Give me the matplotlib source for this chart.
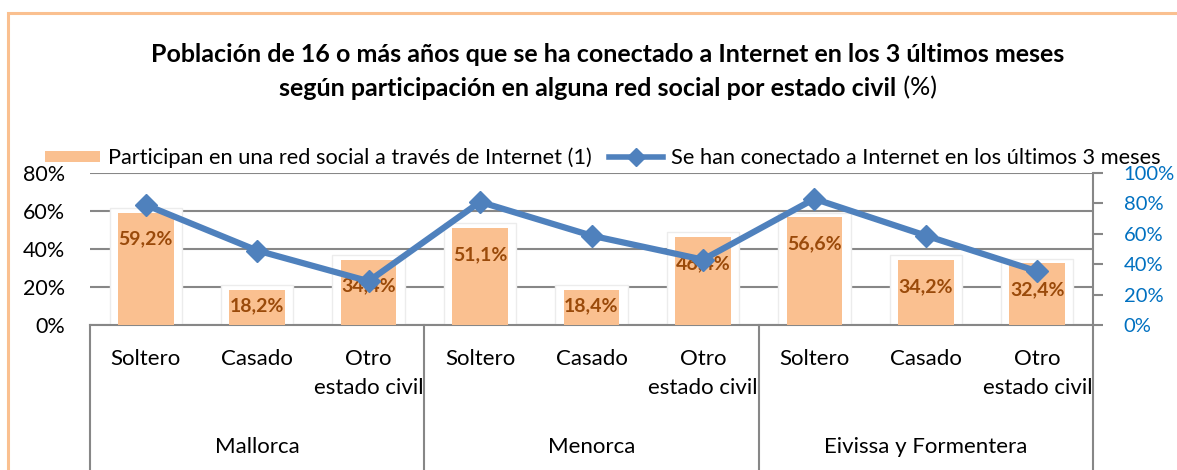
import matplotlib
matplotlib.use('Agg')
import matplotlib.pyplot as plt
from matplotlib.patches import Patch, Rectangle
from matplotlib.lines import Line2D
from matplotlib.transforms import blended_transform_factory
import numpy as np

plt.rcParams['font.family'] = ['Lato', 'DejaVu Sans']

# data
islands = ['Mallorca', 'Menorca', 'Eivissa y Formentera']
estados = ['Soltero', 'Casado', 'Otro\nestado civil']
red_social = [59.2, 18.2, 34.4, 51.1, 18.4, 46.4, 56.6, 34.2, 32.4]
conectados = [79.0, 49.0, 28.8, 81.0, 58.8, 43.0, 83.0, 58.8, 35.3]
left_ticks = [0, 20, 40, 60, 80]
right_ticks = [0, 20, 40, 60, 80, 100]

ORANGE = '#FAC090'
LABEL = '#9A4A0A'
BLUE = '#4F81BD'
TICKBLUE = '#0070C0'
GRID = '#878787'

W, H = 1177, 470
fig = plt.figure(figsize=(W / 100, H / 100), dpi=100)

# orange chart border (cut off on right and bottom)
fig.patches.append(Rectangle((8 / W, -0.1), 1.2, (H - 13) / H + 0.1, transform=fig.transFigure,
                             fill=False, edgecolor=ORANGE, lw=2.2, zorder=0))

x0, x1 = 90, 1093
y_top, y_bot = 173, 325
ax = fig.add_axes([x0 / W, (H - y_bot) / H, (x1 - x0) / W, (y_bot - y_top) / H])
ax2 = ax.twinx()

n = len(red_social)
x = np.arange(n)

# white glow behind bars
ax.bar(x, [v + 2.6 for v in red_social], width=0.65, color='white', edgecolor='#ececec',
       lw=1.0, zorder=2)
ax.bar(x, red_social, width=0.5, color=ORANGE, zorder=3)
for xi, v in zip(x, red_social):
    ax.text(xi, max(v - 14, 10), f'{v:.1f}%'.replace('.', ','), ha='center', va='center',
            fontsize=14, fontweight='bold', color=LABEL, zorder=4)

ax.set_xlim(-0.5, n - 0.5)
ax.set_ylim(0, 80)
ax.set_yticks(left_ticks)
ax.set_yticklabels([f'{t}%' for t in left_ticks], fontsize=15.5, color='black')
ax.yaxis.grid(True, color=GRID, lw=1.5, zorder=1)
ax.set_axisbelow(True)
ax.tick_params(axis='y', length=0, pad=18)
ax.set_xticks([])
for s in ['top', 'left', 'right']:
    ax.spines[s].set_visible(False)
ax.spines['bottom'].set_color(GRID)
ax.spines['bottom'].set_linewidth(1.5)

# line on the secondary axis, drawn above the bars
ax2.set_zorder(ax.get_zorder() + 1)
ax2.patch.set_visible(False)
ax2.plot(x, conectados, color=BLUE, lw=4.5, marker='D', markersize=11)
ax2.set_ylim(0, 100)
ax2.set_yticks(right_ticks)
ax2.set_yticklabels([f'{t}%' for t in right_ticks], fontsize=14.5, color=TICKBLUE)
ax2.tick_params(axis='y', which='both', direction='out', length=7, width=1.5, color=GRID,
                pad=15)
for s in ['top', 'left', 'bottom']:
    ax2.spines[s].set_visible(False)
ax2.spines['right'].set_color(GRID)
ax2.spines['right'].set_linewidth(1.5)

# multi-level category axis
tr = blended_transform_factory(ax.transData, ax.transAxes)
axis_h = y_bot - y_top
for i, lab in enumerate(estados * len(islands)):
    ax.text(i, (y_bot - 349) / axis_h, lab, transform=tr, ha='center', va='top',
            fontsize=16, linespacing=1.55)
for g, isl in enumerate(islands):
    ax.text(g * 3 + 1, (y_bot - 447) / axis_h, isl, transform=tr, ha='center', va='center',
            fontsize=16)
for b in np.arange(len(islands) + 1) * 3 - 0.5:
    ax.plot([b, b], [0, (y_bot - H - 5) / axis_h], transform=tr, color=GRID, lw=1.5,
            clip_on=False)

# legend
handles = [Patch(facecolor=ORANGE, edgecolor='none'),
           Line2D([], [], color=BLUE, lw=4, marker='D', markersize=9)]
labels = ['Participan en una red social a través de Internet (1)',
          'Se han conectado a Internet en los últimos 3 meses']
fig.legend(handles, labels, loc='center', bbox_to_anchor=(603 / W, (H - 158) / H), ncol=2,
           frameon=False, fontsize=15.7, handlelength=2.5, handleheight=0.45,
           handletextpad=0.35, columnspacing=0.8)

# title
fig.text(608 / W, (H - 55) / H,
         'Población de 16 o más años que se ha conectado a Internet en los 3 últimos meses',
         ha='center', va='center', fontsize=18, fontweight='bold')
t_bold = fig.text(0, (H - 88) / H, 'según participación en alguna red social por estado civil',
                  ha='left', va='center', fontsize=18, fontweight='bold')
t_pct = fig.text(0, (H - 88) / H, ' (%)', ha='left', va='center', fontsize=18)
fig.canvas.draw()
r = fig.canvas.get_renderer()
wb = t_bold.get_window_extent(r).width
wp = t_pct.get_window_extent(r).width
start = 608 - (wb + wp) / 2
t_bold.set_x(start / W)
t_pct.set_x((start + wb) / W)

fig.savefig('out.png', dpi=100)
